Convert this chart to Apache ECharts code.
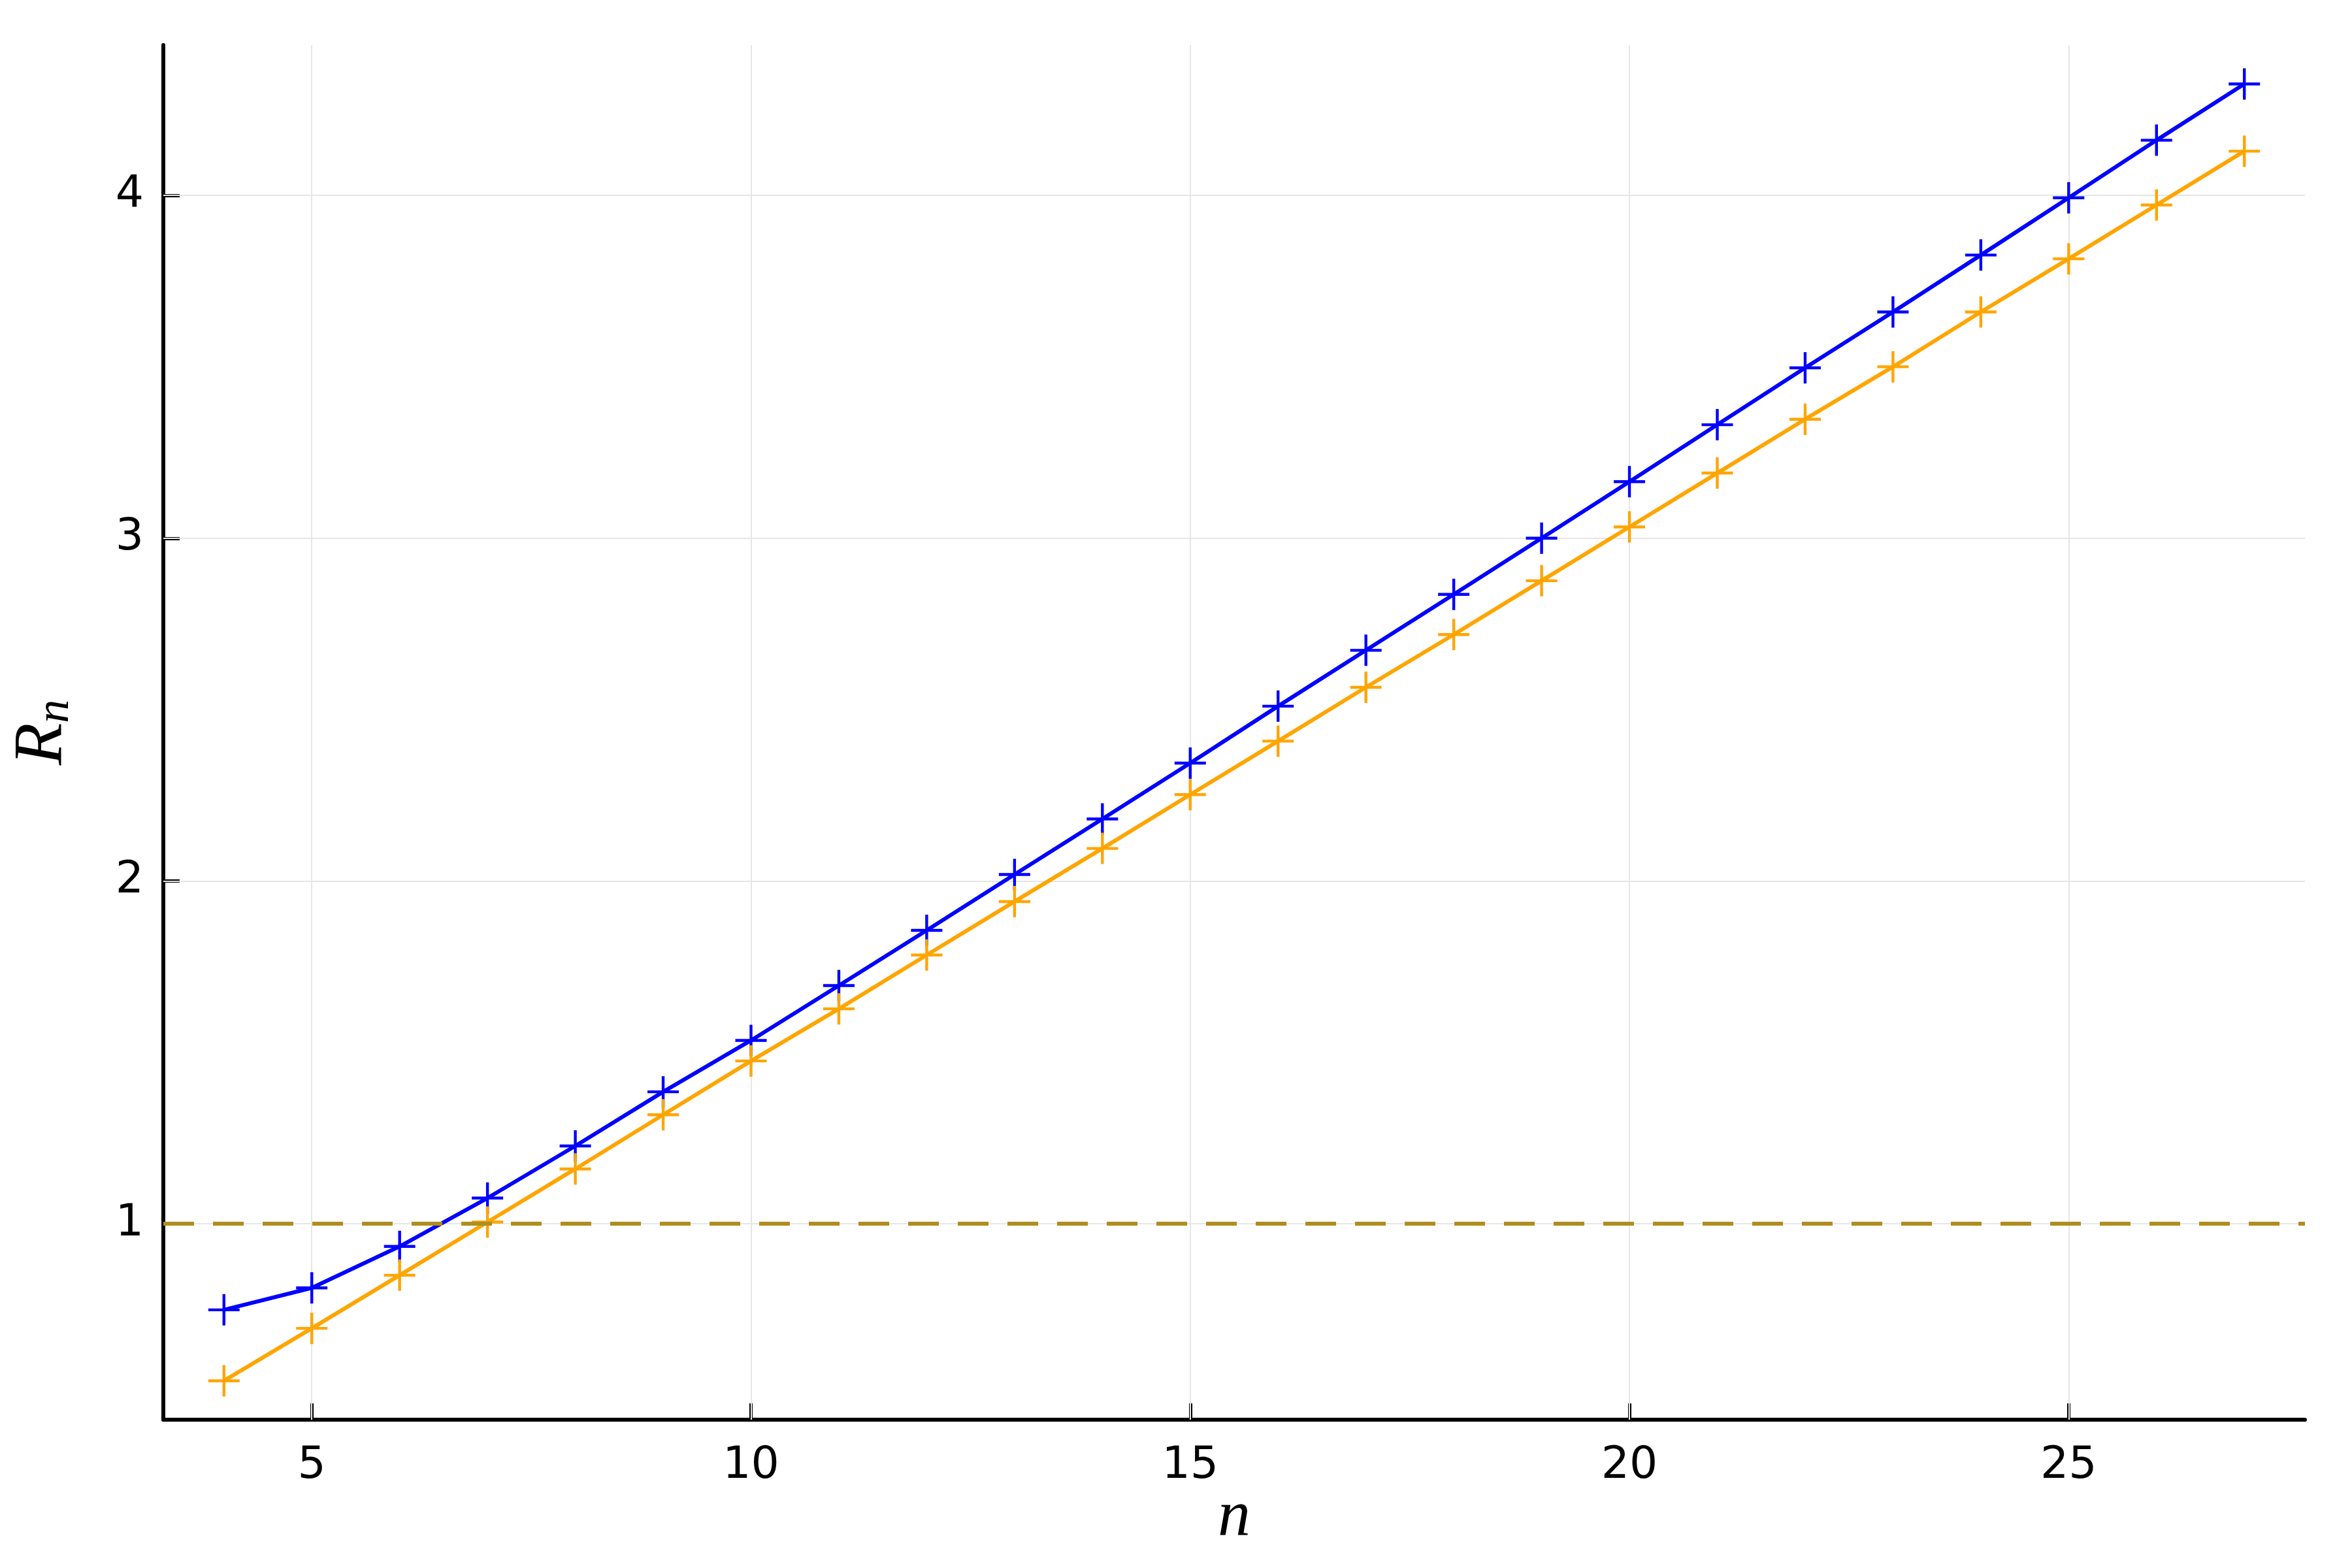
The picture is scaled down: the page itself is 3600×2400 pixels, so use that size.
<!DOCTYPE html>
<html>
<head>
<meta charset="utf-8">
<script src="https://cdn.jsdelivr.net/npm/echarts@6/dist/echarts.min.js"></script>
<style>
html,body{margin:0;padding:0;background:#fff;}
#chart{width:3600px;height:2400px;}
</style>
</head>
<body>
<div id="chart"></div>
<script>
const nValues = [4,5,6,7,8,9,10,11,12,13,14,15,16,17,18,19,20,21,22,23,24,25,26,27];
const blueValues = [0.749,0.813,0.934,1.075,1.227,1.385,1.535,1.695,1.856,2.019,2.181,2.344,2.510,2.673,2.836,3.000,3.165,3.331,3.497,3.660,3.826,3.993,4.161,4.325];
const orangeValues = [0.542,0.695,0.850,1.005,1.160,1.318,1.475,1.627,1.784,1.940,2.095,2.252,2.408,2.565,2.719,2.876,3.033,3.190,3.347,3.500,3.660,3.815,3.972,4.129];
const referenceLevel = 1;
const xTicks = [5,10,15,20,25];
const yTicks = [1,2,3,4];

const plusPath = 'path://M-2.2,-24H2.2V-2.2H24V2.2H2.2V24H-2.2V2.2H-24V-2.2H-2.2Z';

function pairs(xs, ys){ return xs.map((x,i)=>[x, ys[i]]); }

const chart = echarts.init(document.getElementById('chart'), null, {renderer:'canvas'});

const gridLines = xTicks.map(v=>({xAxis:v})).concat(yTicks.map(v=>({yAxis:v})));

const option = {
  backgroundColor:'#ffffff',
  animation:false,
  grid:{left:250, right:72, top:69, bottom:227, containLabel:false, outerBoundsMode:'none'},
  xAxis:{
    type:'value', min:3.31, max:27.69,
    name:'n', nameLocation:'middle', nameGap:100, nameMoveOverlap:false,
    nameTextStyle:{fontFamily:'Liberation Serif', fontStyle:'italic', fontSize:100, color:'#000'},
    axisLine:{show:true, onZero:false, lineStyle:{color:'#000', width:6}},
    axisTick:{show:true, inside:true, length:25, customValues:xTicks, lineStyle:{color:'#000', width:5}},
    axisLabel:{show:true, customValues:xTicks, margin:37, fontFamily:'DejaVu Sans', fontSize:68, color:'#000'},
    splitLine:{show:false}
  },
  yAxis:{
    type:'value', min:0.4285, max:4.4385,
    name:'{r|R}{s|n}', nameLocation:'middle', nameGap:132, nameRotate:90, nameMoveOverlap:false,
    nameTextStyle:{
      rich:{
        r:{fontFamily:'Liberation Serif', fontStyle:'italic', fontSize:106, lineHeight:106, color:'#000'},
        s:{fontFamily:'Liberation Serif', fontStyle:'italic', fontSize:72, lineHeight:72, padding:[40,0,0,0], color:'#000'}
      }
    },
    axisLine:{show:true, onZero:false, lineStyle:{color:'#000', width:6}},
    axisTick:{show:true, inside:true, length:25, customValues:yTicks, lineStyle:{color:'#000', width:5}},
    axisLabel:{show:true, customValues:yTicks, margin:30, fontFamily:'DejaVu Sans', fontSize:68, color:'#000'},
    splitLine:{show:false}
  },
  series:[
    {
      type:'line', name:'grid', data:[], z:1, silent:true,
      markLine:{
        silent:true, z:1, symbol:['none','none'], label:{show:false},
        lineStyle:{color:'#e6e6e6', width:2, type:'solid'},
        emphasis:{disabled:true},
        data:gridLines
      }
    },
    {
      type:'line', name:'blue', data:pairs(nValues, blueValues), z:3,
      lineStyle:{color:'#0000ff', width:6},
      itemStyle:{color:'#0000ff'},
      symbol:plusPath, symbolSize:48, showSymbol:true, showAllSymbol:true,
      emphasis:{disabled:true}
    },
    {
      type:'line', name:'orange', data:pairs(nValues, orangeValues), z:4,
      lineStyle:{color:'#ffa500', width:6},
      itemStyle:{color:'#ffa500'},
      symbol:plusPath, symbolSize:48, showSymbol:true, showAllSymbol:true,
      emphasis:{disabled:true},
      markLine:{
        silent:true, z:6, symbol:['none','none'], label:{show:false},
        lineStyle:{color:'#b08d1f', width:6, type:[47,29]},
        emphasis:{disabled:true},
        data:[{yAxis:referenceLevel}]
      }
    }
  ]
};
chart.setOption(option);
</script>
</body>
</html>
